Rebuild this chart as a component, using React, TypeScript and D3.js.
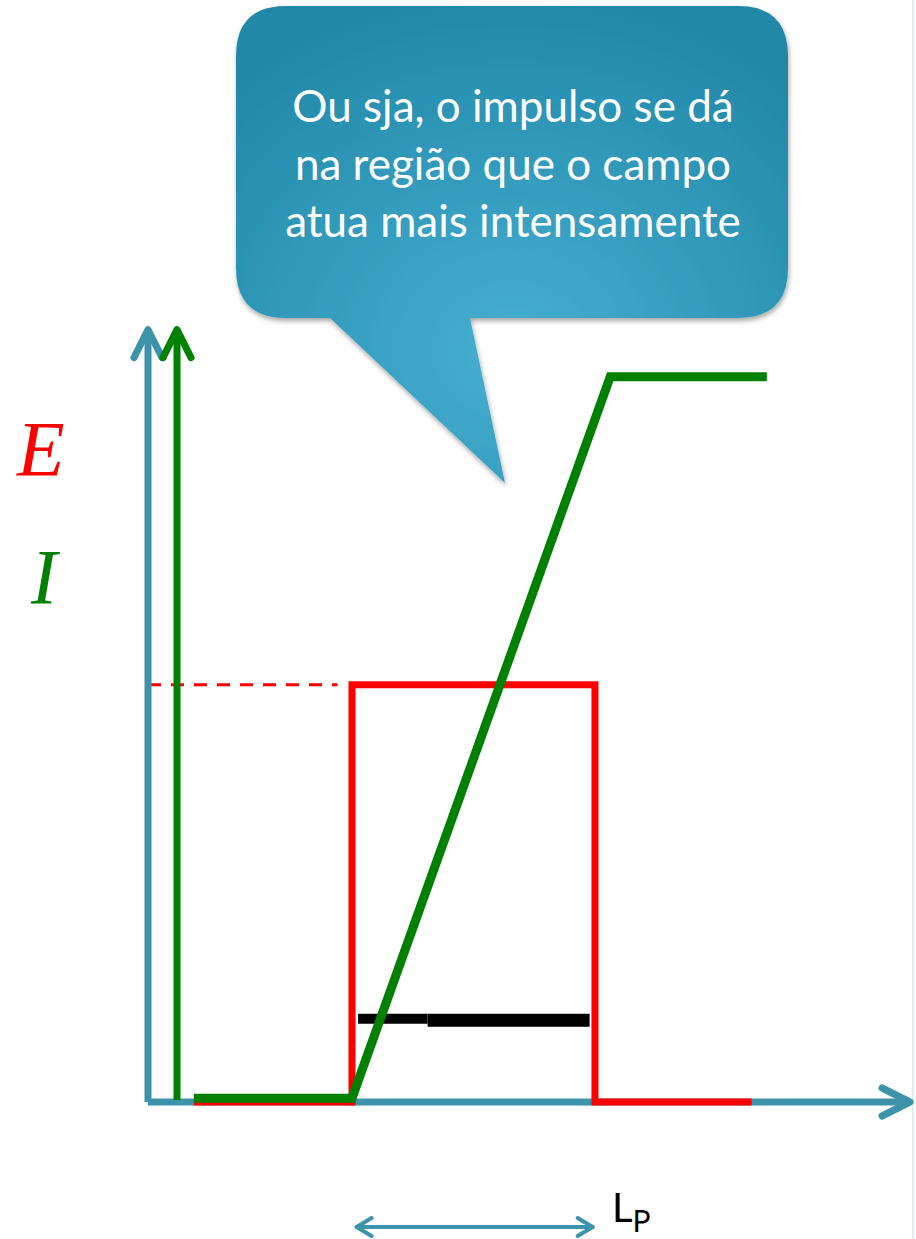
import React from "react";
import * as d3 from "d3";

// Data in abstract units (x: position along the axis, y: magnitude)
const eX = [0.6, 2.67, 2.67, 5.85, 5.85, 7.9];
const eY = [0, 0, 5.42, 5.42, 0, 0];
const iX = [0.6, 2.67, 6.05, 8.1];
const iY = [0.05, 0.05, 9.42, 9.42];
const blackLeftX = [2.75, 3.66];
const blackRightX = [3.66, 5.78];
const blackY = 1.08;
const eLevel = 5.42;
const dashEndX = 2.48;
const lpStart = 2.73;
const lpEnd = 5.82;
const bubbleLines = ["Ou sja, o impulso se dá", "na região que o campo", "atua mais intensamente"];

const W = 916;
const H = 1239;

export default function App() {
  const x = d3.scaleLinear().domain([0, 10]).range([148, 912]);
  const y = d3.scaleLinear().domain([0, 10]).range([1102, 332]);
  const line = d3.line<[number, number]>().x((d) => x(d[0])).y((d) => y(d[1]));
  const ePts = eX.map((v, i) => [v, eY[i]] as [number, number]);
  const iPts = iX.map((v, i) => [v, iY[i]] as [number, number]);
  const blue = "#3c94aa";
  const green = "#008000";
  const red = "#ff0000";
  const x0 = x(0);
  const y0 = y(0);
  const yTop = y(10.03);
  const gx = 177;
  const xEnd = x(10);
  const lpY = 1227;

  return (
    <svg width={W} height={H} style={{ position: "absolute", left: 0, top: 0 }}>
      <defs>
        <radialGradient id="bub" cx="0.5" cy="0.72" r="0.75">
          <stop offset="0" stopColor="#46afd2" />
          <stop offset="1" stopColor="#2188a8" />
        </radialGradient>
        <filter id="sh" x="-10%" y="-10%" width="120%" height="130%">
          <feDropShadow dx="1" dy="3" stdDeviation="2.5" floodColor="#000" floodOpacity="0.35" />
        </filter>
      </defs>
      <rect width={W} height={H} fill="#fff" />
      <line x1={913} y1={0} x2={913} y2={H} stroke="#bfe0e4" strokeWidth={1} />

      {/* speech bubble */}
      <path
        filter="url(#sh)"
        fill="url(#bub)"
        d={`M 286 6 L 738 6 Q 788 6 788 56 L 788 268 Q 788 318 738 318 L 470 318 L 505 483 L 330 318 L 286 318 Q 236 318 236 268 L 236 56 Q 236 6 286 6 Z`}
      />
      {bubbleLines.map((t, i) => (
        <text
          key={i}
          x={513}
          y={122 + i * 57.5}
          textAnchor="middle"
          fill="#fff"
          fontFamily="Lato, 'Open Sans', sans-serif"
          fontSize={44}
        >
          {t}
        </text>
      ))}

      {/* labels */}
      <text x={17} y={475} fill={red} fontFamily="'Liberation Serif', 'DejaVu Serif', serif" fontStyle="italic" fontSize={78}>E</text>
      <text x={31} y={603} fill={green} fontFamily="'Liberation Serif', 'DejaVu Serif', serif" fontStyle="italic" fontSize={78}>I</text>

      {/* dashed reference */}
      <line x1={x0} y1={y(eLevel)} x2={x(dashEndX)} y2={y(eLevel)} stroke={red} strokeWidth={3} strokeDasharray="13 10" />

      {/* axes */}
      <g stroke={blue} strokeWidth={7} fill="none" strokeLinecap="round" strokeLinejoin="round">
        <line x1={x0} y1={y0} x2={xEnd - 3} y2={y0} strokeLinecap="butt" />
        <line x1={x0} y1={y0} x2={x0} y2={yTop + 3} strokeLinecap="butt" />
        <polyline points={`${x0 - 14},${yTop + 28} ${x0},${yTop} ${x0 + 14},${yTop + 28}`} />
        <polyline points={`${xEnd - 30},${y0 - 14} ${xEnd - 2},${y0} ${xEnd - 30},${y0 + 14}`} />
      </g>
      <g stroke={green} strokeWidth={7} fill="none" strokeLinecap="round" strokeLinejoin="round">
        <line x1={gx} y1={y0 - 2} x2={gx} y2={yTop + 3} strokeLinecap="butt" />
        <polyline points={`${gx - 14},${yTop + 28} ${gx},${yTop} ${gx + 14},${yTop + 28}`} />
      </g>

      {/* E curve */}
      <path d={line(ePts) || ""} fill="none" stroke={red} strokeWidth={7} strokeLinejoin="miter" />
      {/* black segment */}
      <line x1={x(blackLeftX[0])} y1={y(blackY)} x2={x(blackLeftX[1])} y2={y(blackY)} stroke="#000" strokeWidth={10} />
      <line x1={x(blackRightX[0])} y1={y(blackY) + 1.5} x2={x(blackRightX[1])} y2={y(blackY) + 1.5} stroke="#000" strokeWidth={13} />
      {/* I curve */}
      <path d={line(iPts) || ""} fill="none" stroke={green} strokeWidth={9} strokeLinejoin="miter" />

      {/* L_P arrow */}
      <g stroke={blue} strokeWidth={4} fill="none" strokeLinecap="round" strokeLinejoin="round">
        <line x1={x(lpStart)} y1={lpY} x2={x(lpEnd)} y2={lpY} />
        <polyline points={`${x(lpStart) + 15},${lpY - 9} ${x(lpStart)},${lpY} ${x(lpStart) + 15},${lpY + 9}`} />
        <polyline points={`${x(lpEnd) - 15},${lpY - 9} ${x(lpEnd)},${lpY} ${x(lpEnd) - 15},${lpY + 9}`} />
      </g>
      <text x={612} y={1222} fill="#000" fontFamily="Lato, 'Open Sans', sans-serif" fontSize={40}>
        L<tspan fontSize={30} dy={10}>P</tspan>
      </text>
    </svg>
  );
}
